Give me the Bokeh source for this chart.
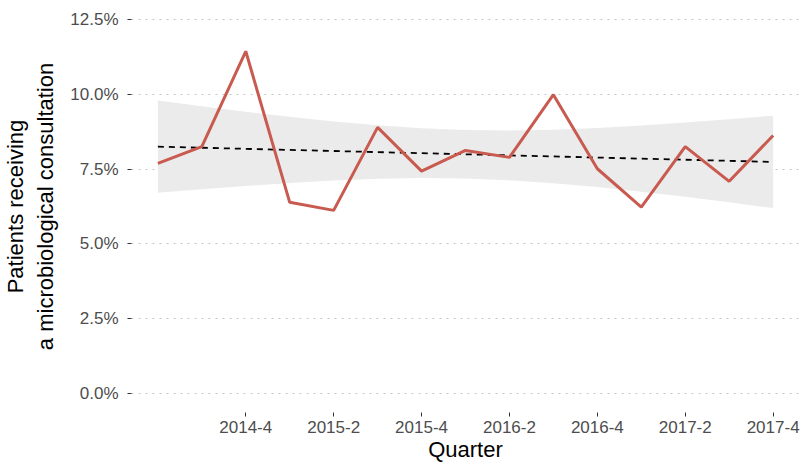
import numpy as np
from bokeh.plotting import figure
from bokeh.models import Range1d, FixedTicker, PrintfTickFormatter
from bokeh.embed import file_html
from bokeh.resources import INLINE

# Share of patients receiving a microbiological consultation, per quarter (%)
quarters = ["2014-2", "2014-3", "2014-4", "2015-1", "2015-2", "2015-3", "2015-4",
            "2016-1", "2016-2", "2016-3", "2016-4", "2017-1", "2017-2", "2017-3", "2017-4"]
share_pct = [7.69, 8.25, 11.43, 6.39, 6.12, 8.89, 7.43,
             8.12, 7.89, 9.98, 7.51, 6.23, 8.25, 7.09, 8.62]
y_ticks = [0.0, 2.5, 5.0, 7.5, 10.0, 12.5]
x_tick_labels = ["2014-4", "2015-2", "2015-4", "2016-2", "2016-4", "2017-2", "2017-4"]

x = np.arange(1, len(quarters) + 1, dtype=float)
y = np.array(share_pct)

# Linear trend with a 95% confidence band (t quantile for 13 df)
n = len(x)
slope, intercept = np.polyfit(x, y, 1)
fit = intercept + slope * x
resid = y - fit
s = np.sqrt(np.sum(resid ** 2) / (n - 2))
se = s * np.sqrt(1.0 / n + (x - x.mean()) ** 2 / np.sum((x - x.mean()) ** 2))
t975 = 2.1604
lower = fit - t975 * se
upper = fit + t975 * se

p = figure(width=803, height=465, output_backend="svg", toolbar_location=None,
           x_range=Range1d(0.4, 15.6), y_range=Range1d(-0.625, 13.125),
           min_border_left=131, min_border_right=4, min_border_top=0, min_border_bottom=53)
p.outline_line_color = None
p.background_fill_color = "white"

p.varea(x=x, y1=lower, y2=upper, fill_color="#ebebeb", fill_alpha=1.0)
p.line(x, fit, line_color="black", line_width=1.8, line_dash="6 5")
p.line(x, y, line_color="#c85a50", line_width=3)

tick_pos = [quarters.index(q) + 1 for q in x_tick_labels]
p.xaxis.ticker = FixedTicker(ticks=tick_pos)
p.xaxis.major_label_overrides = {pos: lab for pos, lab in zip(tick_pos, x_tick_labels)}
p.yaxis.ticker = FixedTicker(ticks=y_ticks)
p.yaxis.formatter = PrintfTickFormatter(format="%.1f%%")

for ax in (p.xaxis, p.yaxis):
    ax.axis_line_color = None
    ax.major_tick_line_color = "#333333"
    ax.major_tick_in = 0
    ax.major_tick_out = 4
    ax.minor_tick_line_color = None
    ax.major_label_text_font = "Liberation Sans"
    ax.major_label_text_font_size = "17px"
    ax.major_label_text_color = "#4d4d4d"
    ax.axis_label_text_font = "Liberation Sans"
    ax.axis_label_text_font_size = "22px"
    ax.axis_label_text_font_style = "normal"
    ax.axis_label_text_color = "black"

p.xaxis.axis_label = "Quarter"
p.xaxis.major_label_standoff = 4
p.xaxis.axis_label_standoff = 1
p.yaxis.axis_label = "Patients receiving\na microbiological consultation"
p.yaxis.major_label_standoff = 9
p.yaxis.axis_label_standoff = 9

p.xgrid.grid_line_color = None
p.ygrid.grid_line_color = "#c4c4c4"
p.ygrid.grid_line_dash = "2 5"
p.ygrid.grid_line_width = 1

open("out.html", "w").write(file_html(p, INLINE))
